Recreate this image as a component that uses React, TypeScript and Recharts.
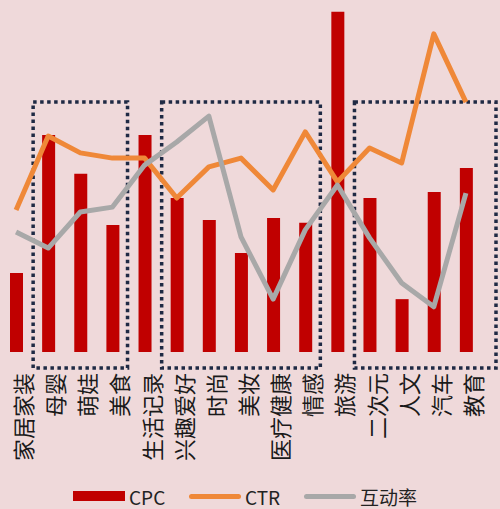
import { ComposedChart, Bar, Line, XAxis, YAxis, ReferenceArea } from 'recharts'

const categories = ['家居家装', '母婴', '萌娃', '美食', '生活记录', '兴趣爱好', '时尚', '美妆', '医疗健康', '情感', '旅游', '二次元', '人文', '汽车', '教育']
const cpc = [22.6, 62, 50.9, 36.3, 62, 44, 37.7, 28.3, 38.3, 36.9, 97.2, 44, 15.1, 45.7, 52.6]
const ctr = [40.6, 61.7, 56.9, 55.4, 55.4, 44, 52.9, 55.4, 46.3, 62.9, 48.6, 58.3, 54, 90.9, 71.4]
const interaction = [34.3, 29.7, 40, 41.4, 53.4, 60, 67.4, 32.9, 15.1, 34.9, 47.7, 32.6, 19.7, 12.9, 45.4]

// highlighted groups: first and last category of each dotted box
const groups: [string, string][] = [
  ['母婴', '美食'],
  ['兴趣爱好', '情感'],
  ['二次元', '教育'],
]

const data = categories.map((name, i) => ({
  name,
  CPC: cpc[i],
  CTR: ctr[i],
  互动率: interaction[i],
}))

const BG = '#efd9da'
const RED = '#c00000'
const ORANGE = '#ef8838'
const GREY = '#a8a8a8'
const FONT = '"Noto Sans CJK SC", "Noto Sans", sans-serif'

function VerticalTick(props: any) {
  const { x, y, payload } = props
  return (
    <text
      transform={`translate(${x + 6}, ${y + 13}) rotate(-90)`}
      textAnchor="end"
      dominantBaseline="central"
      fontSize={22}
      fontFamily={FONT}
      fill="#1a1a1a"
    >
      {payload.value}
    </text>
  )
}

function DottedBox(extra: number) {
  return (props: any) => {
    const { x, y, width, height } = props
    return (
      <rect
        x={x + 1}
        y={y}
        width={width - 2 + extra}
        height={height}
        fill="none"
        stroke="#1f2a44"
        strokeWidth={3.5}
        strokeDasharray="3.5 3.5"
      />
    )
  }
}

function LegendRow() {
  const item = (label: string, color: string, thick: number, left: number) => (
    <div style={{ position: 'absolute', left, top: 484, display: 'flex', alignItems: 'center', height: 24 }}>
      <div style={{ width: 52, height: thick, background: color, borderRadius: thick > 6 ? 0 : 3 }} />
      <span style={{ marginLeft: 4, fontSize: 19, fontFamily: FONT, color: '#222' }}>{label}</span>
    </div>
  )
  return (
    <>
      {item('CPC', RED, 10, 73)}
      {item('CTR', ORANGE, 5, 189)}
      {item('互动率', GREY, 5, 304)}
    </>
  )
}

export default function App() {
  return (
    <div style={{ position: 'absolute', left: 0, top: 0, width: 500, height: 509, background: BG, overflow: 'hidden' }}>
      <ComposedChart width={500} height={509} data={data} margin={{ top: 2, right: 18, bottom: 0, left: 0 }}>
        <XAxis
          dataKey="name"
          height={157}
          axisLine={false}
          tickLine={false}
          interval={0}
          tick={<VerticalTick />}
        />
        <YAxis hide domain={[0, 100]} allowDataOverflow />
        {groups.map(([a, b], i) => (
          <ReferenceArea
            key={a}
            x1={a}
            x2={b}
            y1={-4.6}
            y2={71.4}
            ifOverflow="visible"
            shape={DottedBox(i === 2 ? 15 : 0)}
          />
        ))}
        <Bar dataKey="CPC" fill={RED} barSize={13} isAnimationActive={false} />
        <Line type="linear" dataKey="CTR" stroke={ORANGE} strokeWidth={5} strokeLinejoin="round" dot={false} isAnimationActive={false} />
        <Line type="linear" dataKey="互动率" stroke={GREY} strokeWidth={5} strokeLinejoin="round" dot={false} isAnimationActive={false} />
      </ComposedChart>
      <LegendRow />
    </div>
  )
}
